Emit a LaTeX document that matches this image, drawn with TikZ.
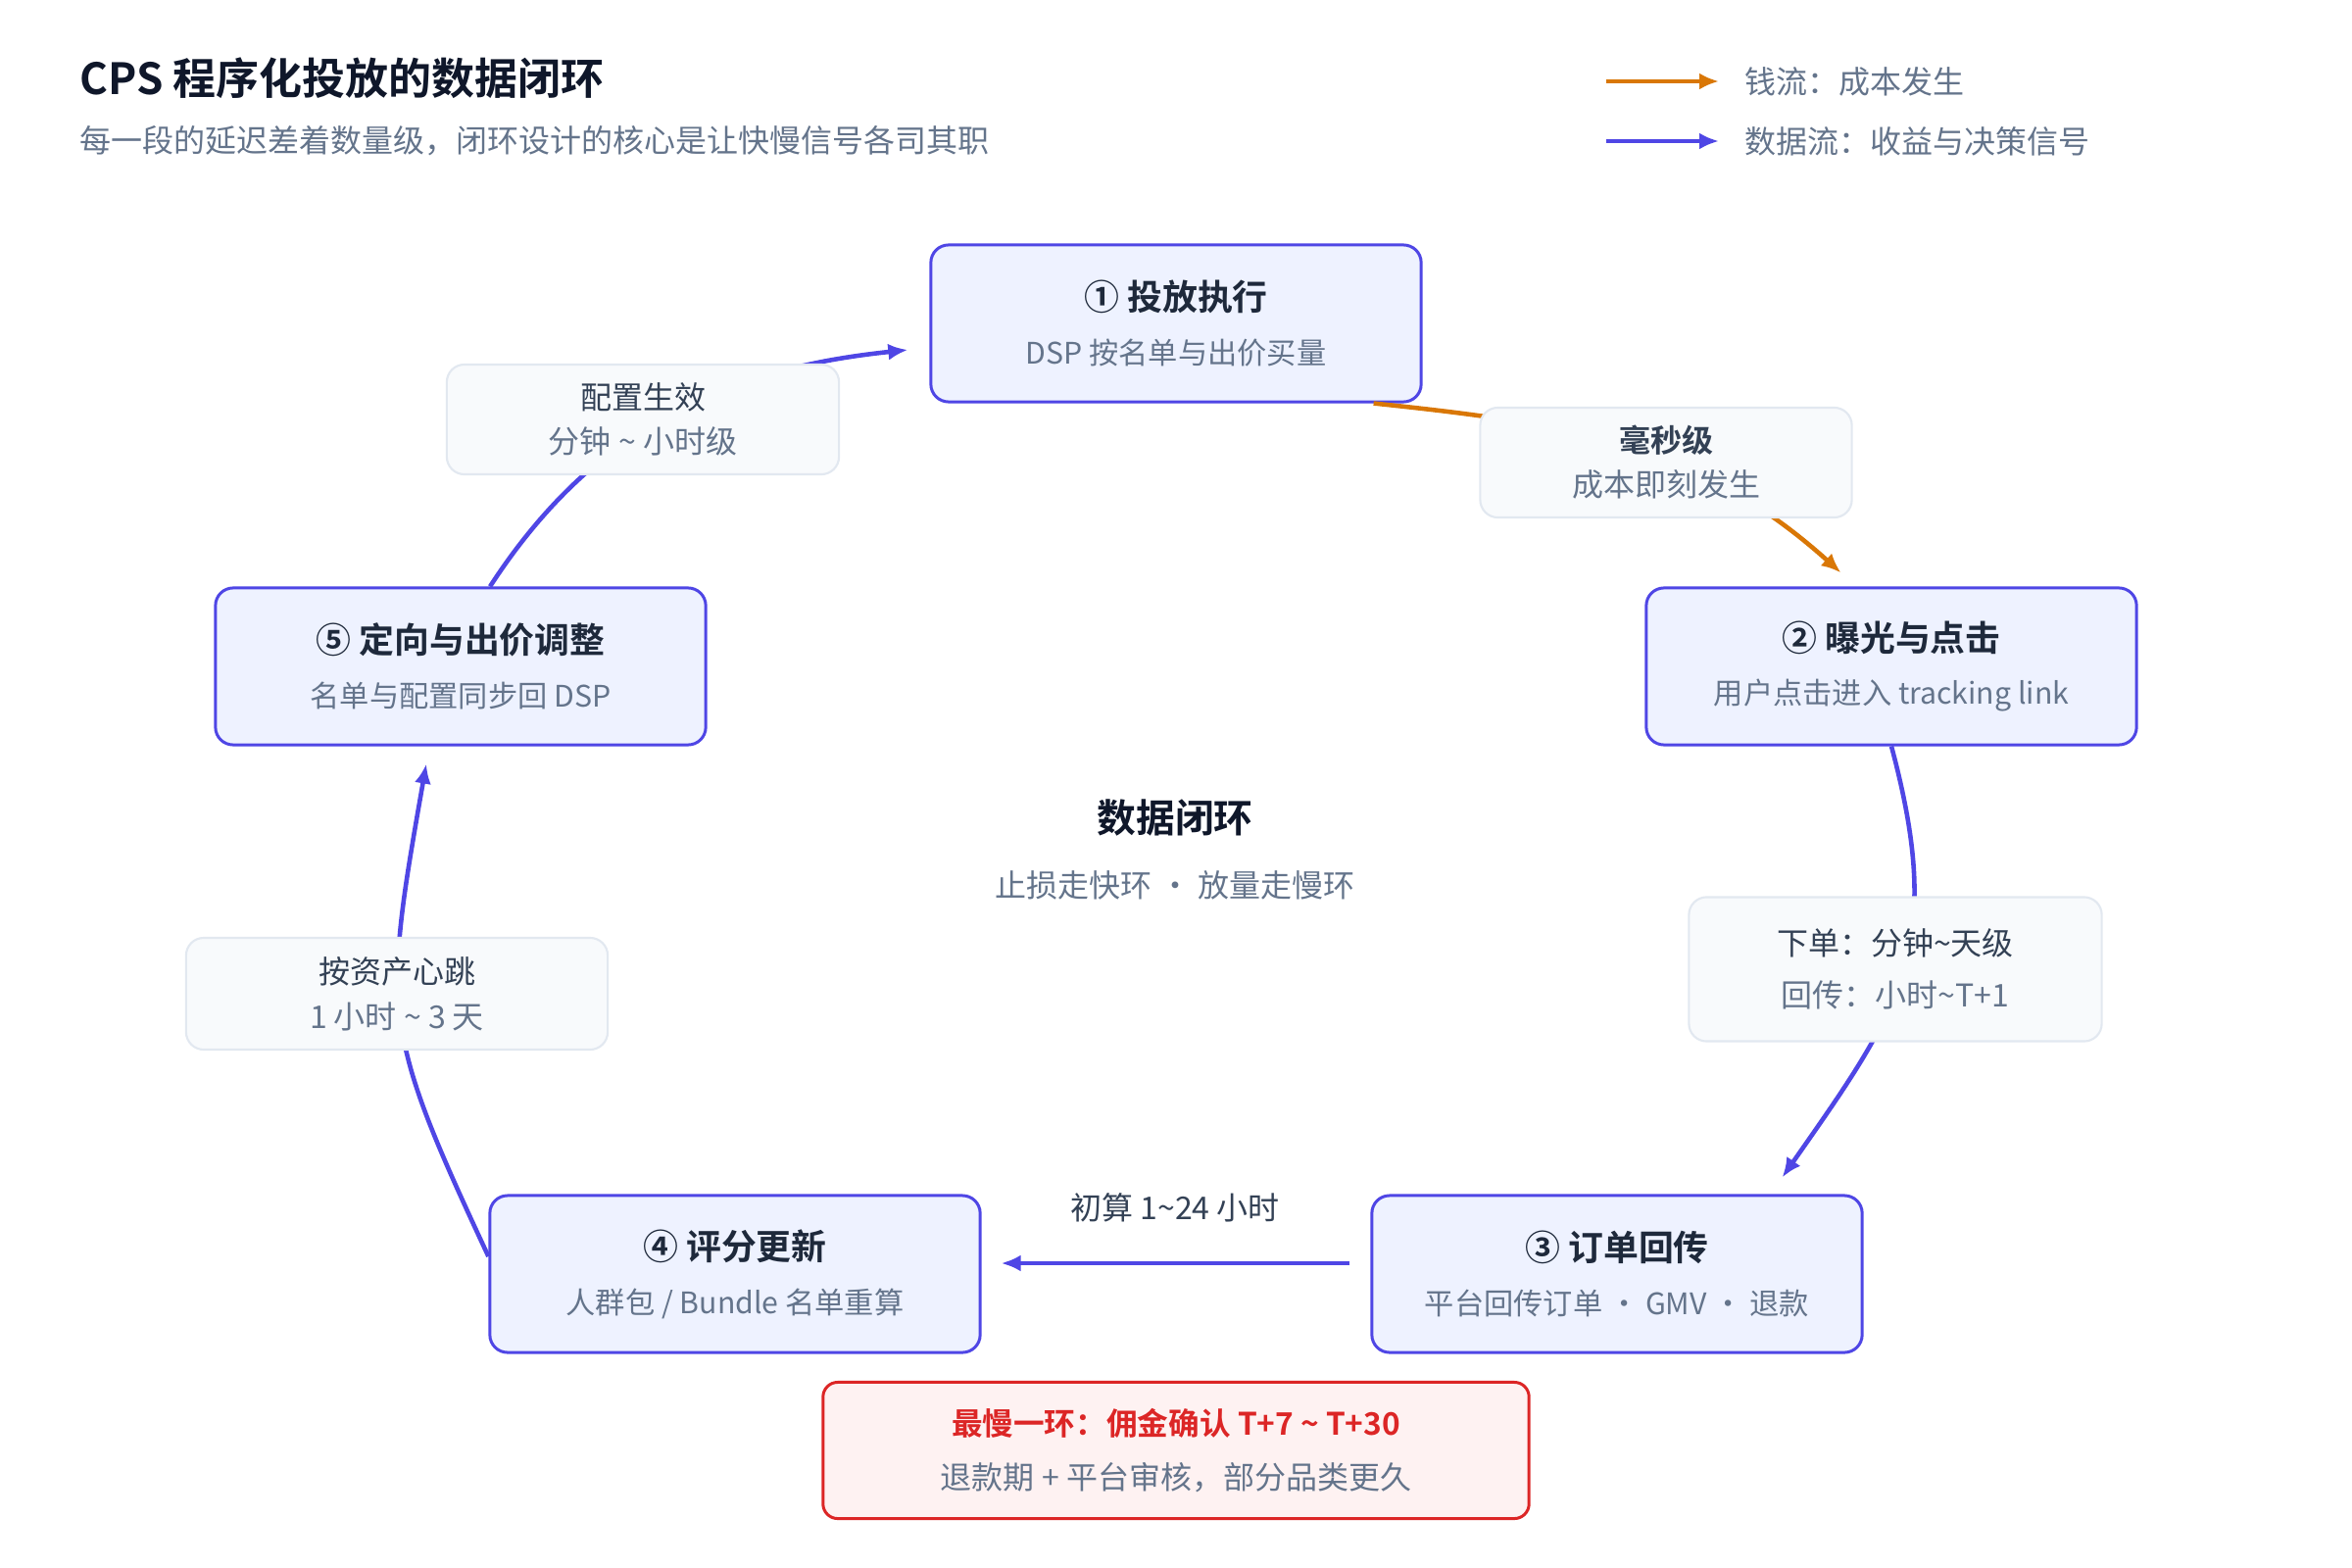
\documentclass[tikz,border=0pt]{standalone}
\usepackage{fontspec}
\setmainfont{Noto Sans CJK SC}[BoldFont={Noto Sans CJK SC Bold}]
\usetikzlibrary{arrows.meta}
\definecolor{ink}{HTML}{0F172A}
\definecolor{inkb}{HTML}{1E293B}
\definecolor{inkm}{HTML}{334155}
\definecolor{mute}{HTML}{64748B}
\definecolor{flow}{HTML}{4F46E5}
\definecolor{flowbg}{HTML}{EEF2FF}
\definecolor{cost}{HTML}{D97706}
\definecolor{tagbg}{HTML}{F8FAFC}
\definecolor{tagline}{HTML}{E2E8F0}
\definecolor{warn}{HTML}{DC2626}
\definecolor{warnbg}{HTML}{FEF2F2}
\newcommand\stagetitle{\fontsize{10.2pt}{12pt}\selectfont\bfseries\color{inkb}}
\newcommand\stagenote{\fontsize{8.6pt}{10pt}\selectfont\color{mute}}
\newcommand\tagtop{\fontsize{9.1pt}{10pt}\selectfont\color{inkm}}
\tikzset{
    stage/.style={rectangle, rounded corners=0.18cm, draw=flow, line width=0.85pt, fill=flowbg,
        minimum width=5cm, minimum height=1.6cm, inner sep=0, align=center,
        font=\fontsize{8.6pt}{10pt}\selectfont},
    tag/.style={rectangle, rounded corners=0.18cm, draw=tagline, line width=0.6pt, fill=tagbg,
        inner sep=0, align=center, font=\fontsize{9.1pt}{10pt}\selectfont},
    plain/.style={inner sep=0, font=\fontsize{9.1pt}{10pt}\selectfont},
    data/.style={draw=flow, line width=1.3pt, -{Latex[length=0.2cm,width=0.17cm]}},
    money/.style={data, draw=cost}
}

\begin{document}
\begin{tikzpicture}[x=0.01cm, y=-0.01cm]
    \useasboundingbox[fill=white] (0,0) rectangle (2400,1600);

    % header and legend
    \node[anchor=west, inner sep=0, font=\fontsize{12.5pt}{14pt}\selectfont\bfseries, text=ink] (title) at (81,80) {CPS 程序化投放的数据闭环};
    \node[plain, anchor=west, text=mute] (subtitle) at (81,144) {每一段的延迟差着数量级，闭环设计的核心是让快慢信号各司其职};
    \coordinate (costA) at (1639,83);
    \coordinate (costB) at (1754,83);
    \coordinate (dataA) at (1639,144);
    \coordinate (dataB) at (1754,144);
    \draw[money] (costA) -- (costB);
    \draw[data] (dataA) -- (dataB);
    \node[plain, anchor=west, text=mute] (costkey) at (1780,83) {钱流：成本发生};
    \node[plain, anchor=west, text=mute] (datakey) at (1780,144) {数据流：收益与决策信号};

    % the five stages
    \node[stage] (b1) at (1200,330) {{\stagetitle ① 投放执行}\\[5.6pt]{\stagenote DSP 按名单与出价买量}};
    \node[stage] (b2) at (1930,680) {{\stagetitle ② 曝光与点击}\\[5.6pt]{\stagenote 用户点击进入 tracking link}};
    \node[stage] (b3) at (1650,1300) {{\stagetitle ③ 订单回传}\\[5.6pt]{\stagenote 平台回传订单 · GMV · 退款}};
    \node[stage] (b4) at (750,1300) {{\stagetitle ④ 评分更新}\\[5.6pt]{\stagenote 人群包 / Bundle 名单重算}};
    \node[stage] (b5) at (470,680) {{\stagetitle ⑤ 定向与出价调整}\\[5.6pt]{\stagenote 名单与配置同步回 DSP}};

    % loop
    \draw[money] ([xshift=-0.5cm]b1.south east) to[out=-6, in=138] ([xshift=2cm,yshift=0.14cm]b2.north west);
    \draw[data] (b2.south) to[out=-75, in=55, looseness=1.2] ([xshift=-0.83cm,yshift=0.17cm]b3.north east);
    \draw[data, shorten <=0.21cm, shorten >=0.2cm] ([yshift=0.11cm]b3.west) -- ([yshift=0.11cm]b4.east);
    \draw[data] ([yshift=0.18cm]b4.west) to[out=115, in=-100, looseness=1.3] ([xshift=-0.35cm,yshift=-0.18cm]b5.south);
    \draw[data] ([xshift=0.3cm]b5.north) to[out=57, in=186] ([xshift=-0.22cm,yshift=-0.27cm]b1.west);

    % delays
    \node[tag, minimum width=4cm, minimum height=1.12cm] (t51) at (656,428) {{\tagtop 配置生效}\\[2.8pt]{\color{mute}分钟 \textasciitilde{} 小时级}};
    \node[tag, minimum width=3.79cm, minimum height=1.12cm] (t12) at (1700,472) {{\tagtop\bfseries 毫秒级}\\[2.8pt]{\color{mute}成本即刻发生}};
    \node[tag, minimum width=4.21cm, minimum height=1.47cm] (t23) at (1934,989) {{\tagtop 下单：分钟\textasciitilde 天级}\\[5.2pt]{\color{mute}回传：小时\textasciitilde T+1}};
    \node[tag, minimum width=4.3cm, minimum height=1.14cm] (t45) at (405,1014) {{\tagtop 按资产心跳}\\[3.2pt]{\color{mute}1 小时 \textasciitilde{} 3 天}};
    \node[plain, text=inkm] (t34) at (1199,1232) {初算 1\textasciitilde 24 小时};

    % centre
    \node[inner sep=0, font=\fontsize{11.3pt}{13pt}\selectfont\bfseries, text=ink] (hub) at (1199,834) {数据闭环};
    \node[plain, text=mute] (hubnote) at (1199,903) {止损走快环 · 放量走慢环};

    % slowest step
    \node[rectangle, rounded corners=0.15cm, draw=warn, line width=0.85pt, fill=warnbg, minimum width=7.2cm,
        minimum height=1.39cm, inner sep=0, align=center, font=\fontsize{9.1pt}{10pt}\selectfont] (slow) at (1200,1480)
        {{\fontsize{9pt}{10pt}\selectfont\bfseries\color{warn}最慢一环：佣金确认 T+7 \textasciitilde{} T+30}\\[5.6pt]{\color{mute}退款期 + 平台审核，部分品类更久}};
\end{tikzpicture}
\end{document}
